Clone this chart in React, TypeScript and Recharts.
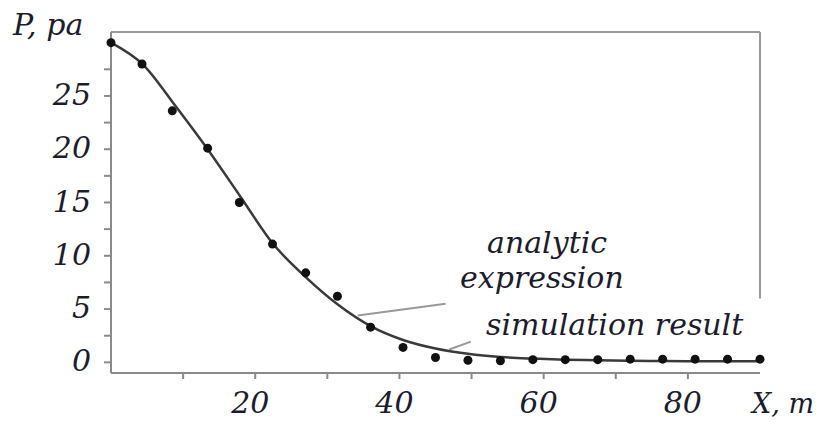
import {
  ComposedChart,
  Line,
  Scatter,
  XAxis,
  YAxis,
  ReferenceLine,
  Customized,
} from "recharts";

// analytic expression (solid curve)
const curveX = [0, 4.5, 9, 13.5, 18, 22.5, 27, 31.5, 36, 40.5, 45, 49.5, 54, 58.5, 63, 67.5, 72, 76.5, 81, 85.5, 90];
const curveY = [30, 27.9, 24.0, 19.9, 15.5, 11.1, 8.0, 5.4, 3.4, 2.1, 1.3, 0.8, 0.5, 0.35, 0.25, 0.2, 0.15, 0.12, 0.1, 0.1, 0.1];

// simulation result (dots)
const simX = [0, 4.3, 8.5, 13.4, 17.8, 22.4, 27, 31.4, 36, 40.5, 45, 49.5, 54, 58.5, 63, 67.5, 72, 76.5, 81, 85.5, 90];
const simY = [30, 28, 23.6, 20.1, 15.0, 11.1, 8.4, 6.2, 3.3, 1.4, 0.45, 0.2, 0.15, 0.25, 0.25, 0.25, 0.3, 0.3, 0.3, 0.3, 0.3];

const yTicks = [0, 2.5, 5, 7.5, 10, 12.5, 15, 17.5, 20, 22.5, 25, 27.5];
const xTicks = [10, 20, 30, 40, 50, 60, 70, 80];

const curveData = curveX.map((x, i) => ({ x, y: curveY[i] }));
const simData = simX.map((x, i) => ({ x, y: simY[i] }));

const FONT = "'DejaVu Serif', serif";
const INK = "#1c1c2c";
const AXIS = "#8a8a8a";

const YTick = (props: any) => {
  const { x, y, payload } = props;
  if (payload.value % 5 !== 0) return null;
  return (
    <text x={x} y={y} dy={9} textAnchor="end" fontFamily={FONT} fontStyle="italic" fontSize={30} fill={INK}>
      {payload.value}
    </text>
  );
};

const XTick = (props: any) => {
  const { x, y, payload } = props;
  if (payload.value % 20 !== 0) return null;
  return (
    <text x={x - 5} y={y} dy={34} textAnchor="middle" fontFamily={FONT} fontStyle="italic" fontSize={30} fill={INK}>
      {payload.value}
    </text>
  );
};

const Dot = (props: any) => <circle cx={props.cx} cy={props.cy} r={4.5} fill="#111" />;

const Notes = () => (
  <g fontFamily={FONT} fontStyle="italic" fontSize={30} fill={INK}>
    <text x={13} y={35}>P, pa</text>
    <text x={752} y={413} fontSize={27}>X, m</text>
    <text x={487} y={253}>analytic</text>
    <text x={460} y={288}>expression</text>
    <text x={486} y={335}>simulation result</text>
  </g>
);

export default function App() {
  return (
    <div style={{ position: "absolute", left: 0, top: 0, background: "#fff" }}>
      <ComposedChart width={820} height={423} margin={{ top: 32, right: 60, left: 0, bottom: 0 }}>
        <XAxis
          type="number"
          dataKey="x"
          domain={[0, 90]}
          ticks={xTicks}
          height={50}
          tickSize={6}
          tickMargin={0}
          stroke={AXIS}
          strokeWidth={2}
          tick={<XTick />}
        />
        <YAxis
          type="number"
          dataKey="y"
          domain={[-1, 31]}
          ticks={yTicks}
          width={111}
          tickSize={7}
          tickMargin={13}
          stroke={AXIS}
          strokeWidth={2}
          tick={<YTick />}
        />
        <ReferenceLine y={31} stroke="#9a9a9a" strokeWidth={2} />
        <ReferenceLine segment={[{ x: 90, y: 31 }, { x: 90, y: 6 }]} stroke="#9a9a9a" strokeWidth={2} />
        <ReferenceLine segment={[{ x: 34.2, y: 4.4 }, { x: 46.4, y: 5.5 }]} stroke="#999" strokeWidth={2} />
        <ReferenceLine segment={[{ x: 46.9, y: 1.2 }, { x: 49.9, y: 1.95 }]} stroke="#999" strokeWidth={2} />
        <Line
          data={curveData}
          dataKey="y"
          type="monotone"
          stroke="#3a3a3a"
          strokeWidth={2.5}
          dot={false}
          isAnimationActive={false}
        />
        <Scatter data={simData} dataKey="y" shape={<Dot />} isAnimationActive={false} />
        <Customized component={<Notes />} />
      </ComposedChart>
    </div>
  );
}
